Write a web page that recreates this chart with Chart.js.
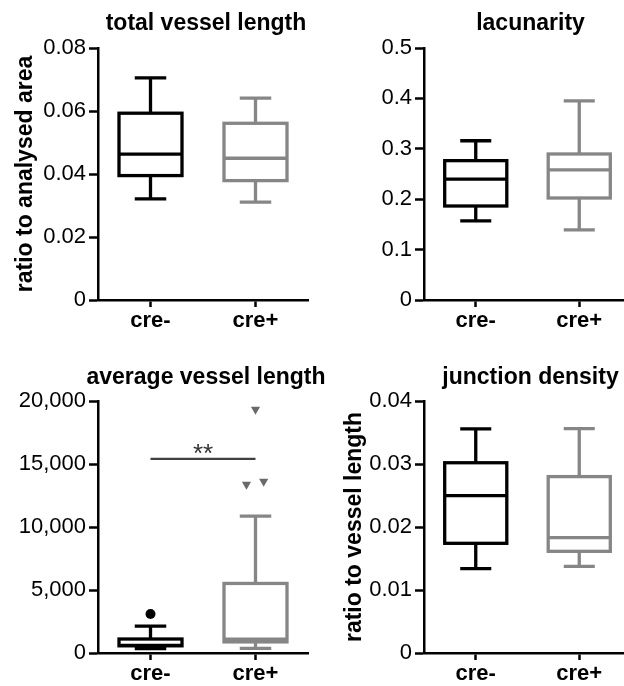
<!DOCTYPE html>
<html>
<head>
<meta charset="utf-8">
<script src="https://cdn.jsdelivr.net/npm/chart.js@4.4.1/dist/chart.umd.min.js"></script>
<style>
  html, body { margin: 0; padding: 0; background: #fff; width: 624px; height: 686px; overflow: hidden; }
  canvas { position: absolute; }
</style>
</head>
<body>
<canvas id="tvl" width="312" height="343" style="left:0;top:0"></canvas>
<canvas id="lac" width="322" height="343" style="left:312px;top:0"></canvas>
<canvas id="avl" width="340" height="343" style="left:0;top:343px"></canvas>
<canvas id="jd" width="322" height="343" style="left:312px;top:343px"></canvas>
<script>
const categories = ['cre-', 'cre+'];

// total vessel length (ratio to analysed area)
const tvlMin = [0.0321, 0.0311];
const tvlQ1 = [0.0395, 0.0379];
const tvlMedian = [0.0463, 0.0450];
const tvlQ3 = [0.0593, 0.0561];
const tvlMax = [0.0705, 0.0641];
const tvlTicks = [0, 0.02, 0.04, 0.06, 0.08];
const tvlTickLabels = ['0', '0.02', '0.04', '0.06', '0.08'];

// lacunarity
const lacMin = [0.157, 0.139];
const lacQ1 = [0.1865, 0.2024];
const lacMedian = [0.240, 0.258];
const lacQ3 = [0.2765, 0.2897];
const lacMax = [0.316, 0.395];
const lacTicks = [0, 0.1, 0.2, 0.3, 0.4, 0.5];
const lacTickLabels = ['0', '0.1', '0.2', '0.3', '0.4', '0.5'];

// average vessel length
const avlMin = [340, 360];
const avlQ1 = [570, 880];
const avlMedian = [600, 1090];
const avlQ3 = [1110, 5520];
const avlMax = [2140, 10870];
const avlOutlierGroup = [0, 1, 1, 1];
const avlOutlierValue = [3100, 19330, 13380, 13620];
const avlTicks = [0, 5000, 10000, 15000, 20000];
const avlTickLabels = ['0', '5,000', '10,000', '15,000', '20,000'];
const sigPair = [0, 1];
const sigValue = 15400;
const sigText = '**';

// junction density (ratio to vessel length)
const jdMin = [0.01338, 0.01376];
const jdQ1 = [0.01741, 0.01614];
const jdMedian = [0.02497, 0.0183];
const jdQ3 = [0.0302, 0.0280];
const jdMax = [0.03556, 0.0356];
const jdTicks = [0, 0.01, 0.02, 0.03, 0.04];
const jdTickLabels = ['0', '0.01', '0.02', '0.03', '0.04'];

// styling
const BLACK = '#000000';
const GREY = '#868686';
const GREY_DARK = '#6a6a6a';
const outlierJitter = [0, 0, -0.086, 0.078];

Chart.defaults.font.family = "'Liberation Sans', Arial, Helvetica, sans-serif";
Chart.defaults.color = '#000';

// draws the boxes and whiskers through the chart scales
const boxPlugin = {
  id: 'boxes',
  beforeDatasetsDraw(chart, args, opts) {
    if (!opts.min) return;
    const { ctx } = chart;
    const x = chart.scales.x, y = chart.scales.y;
    ctx.save();
    ctx.lineWidth = opts.lineWidth;
    opts.min.forEach((_, i) => {
      const cx = x.getPixelForValue(i);
      const half = x.getPixelForValue(i + opts.boxHalf) - cx;
      const cap = x.getPixelForValue(i + opts.capHalf) - cx;
      const yMin = y.getPixelForValue(opts.min[i]);
      const yQ1 = y.getPixelForValue(opts.q1[i]);
      const yMed = y.getPixelForValue(opts.median[i]);
      const yQ3 = y.getPixelForValue(opts.q3[i]);
      const yMax = y.getPixelForValue(opts.max[i]);
      ctx.strokeStyle = opts.colors[i];
      ctx.beginPath();
      ctx.moveTo(cx, yQ3); ctx.lineTo(cx, yMax);
      ctx.moveTo(cx - cap, yMax); ctx.lineTo(cx + cap, yMax);
      ctx.moveTo(cx, yQ1); ctx.lineTo(cx, yMin);
      ctx.moveTo(cx - cap, yMin); ctx.lineTo(cx + cap, yMin);
      ctx.stroke();
      ctx.fillStyle = '#fff';
      ctx.fillRect(cx - half, yQ3, 2 * half, yQ1 - yQ3);
      ctx.strokeRect(cx - half, yQ3, 2 * half, yQ1 - yQ3);
      ctx.beginPath();
      ctx.moveTo(cx - half, yMed); ctx.lineTo(cx + half, yMed);
      ctx.stroke();
    });
    ctx.restore();
  }
};

// label over the significance bar
const sigPlugin = {
  id: 'sig',
  afterDatasetsDraw(chart, args, opts) {
    if (!opts.text) return;
    const { ctx } = chart;
    const x = chart.scales.x, y = chart.scales.y;
    const cx = (x.getPixelForValue(opts.from) + x.getPixelForValue(opts.to)) / 2;
    ctx.save();
    ctx.font = "26px 'Liberation Sans', Arial, sans-serif";
    ctx.fillStyle = '#333';
    ctx.textAlign = 'center';
    ctx.textBaseline = 'alphabetic';
    ctx.fillText(opts.text, cx, y.getPixelForValue(opts.value) + 3);
    ctx.restore();
  }
};

// centre the title a bit right of the plot and let it run wider than the plot
const titleShift = {
  id: 'titleShift',
  afterLayout(chart, args, opts) {
    const t = chart.titleBlock;
    if (!t) return;
    const c = (t.left + t.right) / 2 + (opts.dx || 0);
    const w = Math.max(t.right - t.left, opts.minWidth || 0);
    t.left = c - w / 2;
    t.right = c + w / 2;
  }
};

function xAxis(height) {
  return {
    type: 'linear', min: -0.5, max: 1.5,
    afterBuildTicks: s => { s.ticks = categories.map((c, i) => ({ value: i })); },
    afterFit: s => { s.height = height; },
    ticks: {
      callback: v => categories[Math.round(v)],
      font: { size: 22, weight: 'bold' }, padding: 1, maxRotation: 0, autoSkip: false, color: '#000'
    },
    grid: { drawOnChartArea: false, drawTicks: true, tickLength: 7, tickWidth: 2.5, tickColor: '#000' },
    border: { display: true, color: '#000', width: 2.5 }
  };
}

function yAxis(max, ticks, labels, width, title, titlePad) {
  return {
    type: 'linear', min: 0, max: max,
    afterBuildTicks: s => { s.ticks = ticks.map(v => ({ value: v })); },
    afterFit: s => { s.width = width; },
    ticks: { callback: (v, i) => labels[i], font: { size: 22 }, padding: 3, color: '#000' },
    grid: { drawOnChartArea: false, drawTicks: true, tickLength: 9, tickWidth: 2.5, tickColor: '#000' },
    border: { display: true, color: '#000', width: 2.5 },
    title: title
      ? { display: true, text: title, color: '#000', font: { size: 23, weight: 'bold', lineHeight: 1.2 }, padding: { top: titlePad, bottom: 0 } }
      : { display: false }
  };
}

function makePanel(id, o) {
  return new Chart(document.getElementById(id), {
    type: 'scatter',
    data: { datasets: o.datasets || [] },
    options: {
      responsive: false,
      animation: false,
      events: [],
      layout: { padding: { left: 0, right: o.padRight, top: 0, bottom: 0 } },
      plugins: {
        legend: { display: false },
        tooltip: { enabled: false },
        title: {
          display: true, text: o.title, fullSize: false, color: '#000',
          font: { size: 23, weight: 'bold', lineHeight: 1.2 },
          padding: o.titlePad
        },
        titleShift: { dx: 3, minWidth: 300 },
        boxes: {
          min: o.box[0], q1: o.box[1], median: o.box[2], q3: o.box[3], max: o.box[4],
          colors: [BLACK, GREY], boxHalf: 0.3, capHalf: 0.15, lineWidth: 3.3
        },
        sig: o.sig || {}
      },
      scales: {
        x: xAxis(o.xHeight),
        y: yAxis(o.yMax, o.ticks, o.tickLabels, o.yWidth, o.yTitle, o.yTitlePad)
      }
    },
    plugins: [boxPlugin, sigPlugin, titleShift]
  });
}

makePanel('tvl', {
  title: 'total vessel length', titlePad: { top: 10, bottom: 10.4 },
  box: [tvlMin, tvlQ1, tvlMedian, tvlQ3, tvlMax],
  yMax: 0.08, ticks: tvlTicks, tickLabels: tvlTickLabels,
  yWidth: 98, yTitle: 'ratio to analysed area', yTitlePad: 12,
  xHeight: 43, padRight: 4
});

makePanel('lac', {
  title: 'lacunarity', titlePad: { top: 10, bottom: 10.4 },
  box: [lacMin, lacQ1, lacMedian, lacQ3, lacMax],
  yMax: 0.5, ticks: lacTicks, tickLabels: lacTickLabels,
  yWidth: 112, xHeight: 43, padRight: 3
});

const avlPoints = avlOutlierValue.map((v, i) => ({ x: avlOutlierGroup[i] + outlierJitter[i], y: v }));
makePanel('avl', {
  title: 'average vessel length', titlePad: { top: 21, bottom: 9.4 },
  box: [avlMin, avlQ1, avlMedian, avlQ3, avlMax],
  yMax: 20000, ticks: avlTicks, tickLabels: avlTickLabels,
  yWidth: 98, xHeight: 33, padRight: 32,
  datasets: [
    {
      data: avlPoints.filter((p, i) => avlOutlierGroup[i] === 0),
      pointStyle: 'circle', pointRadius: 5, backgroundColor: BLACK, borderColor: BLACK, borderWidth: 0
    },
    {
      data: avlPoints.filter((p, i) => avlOutlierGroup[i] === 1),
      pointStyle: 'triangle', rotation: 180, pointRadius: 5.3, backgroundColor: GREY_DARK, borderColor: GREY_DARK, borderWidth: 0
    },
    {
      data: sigPair.map(g => ({ x: g, y: sigValue })),
      showLine: true, pointRadius: 0, borderColor: '#404040', borderWidth: 2.3
    }
  ],
  sig: { from: sigPair[0], to: sigPair[1], value: sigValue, text: sigText }
});

makePanel('jd', {
  title: 'junction density', titlePad: { top: 21, bottom: 9.4 },
  box: [jdMin, jdQ1, jdMedian, jdQ3, jdMax],
  yMax: 0.04, ticks: jdTicks, tickLabels: jdTickLabels,
  yWidth: 112, yTitle: 'ratio to vessel length', yTitlePad: 29,
  xHeight: 33, padRight: 3
});
</script>
</body>
</html>
